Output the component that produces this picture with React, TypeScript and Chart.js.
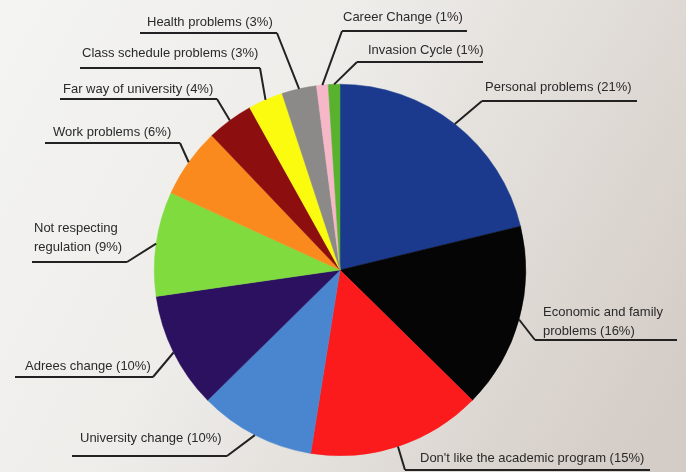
import React, { useEffect, useRef } from "react";
import { Chart, registerables } from "chart.js";

Chart.register(...registerables);

const categories = [
  "Personal problems (21%)",
  "Economic and family|problems (16%)",
  "Don't like the academic program (15%)",
  "University change (10%)",
  "Adrees change (10%)",
  "Not respecting|regulation (9%)",
  "Work problems (6%)",
  "Far way of university (4%)",
  "Class schedule problems (3%)",
  "Health problems (3%)",
  "Career Change (1%)",
  "Invasion Cycle (1%)",
];
const values = [21, 16, 15, 10, 10, 9, 6, 4, 3, 3, 1, 1];
const colors = [
  "#1b3a8e",
  "#050505",
  "#fb1a1c",
  "#4a86cf",
  "#2b1160",
  "#7fdb3e",
  "#fb8a1e",
  "#8c0e0e",
  "#fbfb10",
  "#8c8a88",
  "#f6b8c8",
  "#58b22e",
];

// label layout: text x, text centre y, underline x1, x2, y, elbow side ('L' or 'R')
const labelLayout = [
  { tx: 485, ty: 87, ux1: 482, ux2: 637, uy: 101, side: "L" },
  { tx: 543, ty: 312, ux1: 535, ux2: 677, uy: 340, side: "L" },
  { tx: 420, ty: 458, ux1: 405, ux2: 650, uy: 470, side: "L" },
  { tx: 80, ty: 438, ux1: 72, ux2: 227, uy: 456, side: "R" },
  { tx: 25, ty: 366, ux1: 15, ux2: 153, uy: 377, side: "R" },
  { tx: 34, ty: 228, ux1: 32, ux2: 127, uy: 262, side: "R" },
  { tx: 53, ty: 132, ux1: 45, ux2: 180, uy: 143, side: "R" },
  { tx: 63, ty: 89, ux1: 60, ux2: 217, uy: 99, side: "R" },
  { tx: 82, ty: 53, ux1: 80, ux2: 260, uy: 68, side: "R" },
  { tx: 147, ty: 22, ux1: 140, ux2: 277, uy: 33, side: "R" },
  { tx: 343, ty: 17, ux1: 342, ux2: 467, uy: 31, side: "L" },
  { tx: 368, ty: 50, ux1: 357, ux2: 483, uy: 62, side: "L" },
];

const bgPlugin = {
  id: "photoBg",
  beforeDraw(chart: any) {
    const { ctx, width, height } = chart;
    ctx.save();
    const g = ctx.createLinearGradient(0, 0, width, height * 0.8);
    g.addColorStop(0, "#f4f4f2");
    g.addColorStop(0.4, "#eeedea");
    g.addColorStop(1, "#d4ccc6");
    ctx.fillStyle = g;
    ctx.fillRect(0, 0, width, height);
    ctx.restore();
  },
};

const calloutPlugin = {
  id: "callouts",
  afterDatasetsDraw(chart: any) {
    const { ctx } = chart;
    const meta = chart.getDatasetMeta(0);
    ctx.save();
    ctx.strokeStyle = "#222";
    ctx.lineWidth = 2;
    ctx.fillStyle = "#2a2a2a";
    ctx.font = "13px 'Liberation Sans', Arial, sans-serif";
    ctx.textBaseline = "middle";
    ctx.textAlign = "left";
    meta.data.forEach((arc: any, i: number) => {
      const L = labelLayout[i];
      const p = arc.getProps(["x", "y", "startAngle", "endAngle", "outerRadius"], true);
      const mid = (p.startAngle + p.endAngle) / 2;
      const sx = p.x + Math.cos(mid) * p.outerRadius;
      const sy = p.y + Math.sin(mid) * p.outerRadius;
      const ex = L.side === "L" ? L.ux1 : L.ux2;
      ctx.beginPath();
      ctx.moveTo(sx, sy);
      ctx.lineTo(ex, L.uy);
      ctx.moveTo(L.ux1, L.uy);
      ctx.lineTo(L.ux2, L.uy);
      ctx.stroke();
      const lines = categories[i].split("|");
      lines.forEach((t, k) => {
        ctx.fillText(t, L.tx, L.ty + k * 19.5);
      });
    });
    ctx.restore();
  },
};

export default function App() {
  const ref = useRef<HTMLCanvasElement>(null);
  useEffect(() => {
    document.body.style.margin = "0";
    const chart = new Chart(ref.current!, {
      type: "pie",
      data: {
        labels: categories.map((c) => c.replace("|", " ")),
        datasets: [
          {
            data: values,
            backgroundColor: colors,
            borderColor: colors,
            borderWidth: 0.5,
          },
        ],
      },
      options: {
        responsive: false,
        animation: false,
        rotation: 0,
        layout: { padding: { top: 84, bottom: 16, left: 0, right: 6 } },
        plugins: {
          legend: { display: false },
          tooltip: { enabled: false },
        },
      },
      plugins: [bgPlugin, calloutPlugin],
    });
    return () => chart.destroy();
  }, []);
  return <canvas ref={ref} width={686} height={472} style={{ display: "block" }} />;
}
